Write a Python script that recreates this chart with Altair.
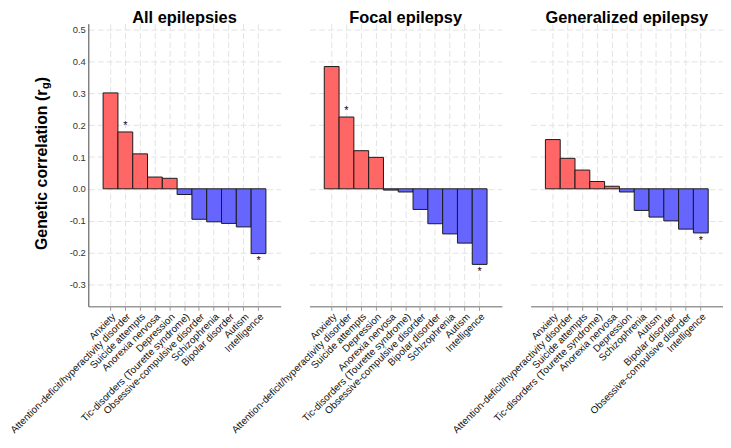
import altair as alt
import pandas as pd

FONT = "Liberation Sans"

# ---- data ----
titles = ["All epilepsies", "Focal epilepsy", "Generalized epilepsy"]

cats_all = ["Anxiety", "Attention-deficit/hyperactivity disorder", "Suicide attempts",
            "Anorexia nervosa", "Depression", "Tic-disorders (Tourette syndrome)",
            "Obsessive-compulsive disorder", "Schizophrenia", "Bipolar disorder",
            "Autism", "Intelligence"]
rg_all = [0.302, 0.179, 0.110, 0.037, 0.033, -0.018, -0.096, -0.104, -0.109, -0.120, -0.204]
sig_all = [0, 1, 0, 0, 0, 0, 0, 0, 0, 0, 1]

cats_focal = ["Anxiety", "Attention-deficit/hyperactivity disorder", "Suicide attempts",
              "Depression", "Anorexia nervosa", "Tic-disorders (Tourette syndrome)",
              "Obsessive-compulsive disorder", "Bipolar disorder", "Schizophrenia",
              "Autism", "Intelligence"]
rg_focal = [0.385, 0.226, 0.120, 0.099, -0.004, -0.010, -0.065, -0.110, -0.142, -0.171, -0.238]
sig_focal = [0, 1, 0, 0, 0, 0, 0, 0, 0, 0, 1]

cats_gen = ["Anxiety", "Attention-deficit/hyperactivity disorder", "Suicide attempts",
            "Tic-disorders (Tourette syndrome)", "Anorexia nervosa", "Depression",
            "Schizophrenia", "Autism", "Bipolar disorder",
            "Obsessive-compulsive disorder", "Intelligence"]
rg_gen = [0.155, 0.096, 0.059, 0.023, 0.008, -0.010, -0.068, -0.089, -0.101, -0.127, -0.139]
sig_gen = [0, 0, 0, 0, 0, 0, 0, 0, 0, 0, 1]

y_ticks = [-0.3, -0.2, -0.1, 0.0, 0.1, 0.2, 0.3, 0.4, 0.5]
y_domain = [-0.37, 0.52]

W = 194
H = 285
RED = "#FF6666"
BLUE = "#6666FF"
GRID = "#e3e3e3"

label_expr = "datum.value < 0 ? '-' + format(-datum.value, '.1f') : format(datum.value, '.1f')"


def panel(title, cats, vals, sig, first):
    df = pd.DataFrame({"trait": cats, "rg": vals, "sig": sig})
    df["dir"] = ["pos" if v >= 0 else "neg" for v in vals]

    xenc = alt.X("trait:N", sort=cats, title=None,
                 scale=alt.Scale(paddingInner=0, paddingOuter=1.0),
                 axis=alt.Axis(labelAngle=-45, labelFontSize=10, labelFont=FONT,
                               labelColor="#111", labelLimit=0, labelPadding=1,
                               labelOverlap=False,
                               tickColor="#999", tickSize=4, domainColor="#999",
                               domainWidth=1.5, grid=True, gridColor=GRID,
                               gridDash=[6, 3]))
    if first:
        yaxis = alt.Axis(values=y_ticks, labelExpr=label_expr, labelFontSize=9.5,
                         labelFont=FONT, labelColor="#333", ticks=False,
                         labelOverlap=False, labelSeparation=0,
                         domainColor="#444", domainWidth=1, labelPadding=3,
                         title=None, grid=True, gridColor=GRID, gridDash=[6, 3])
    else:
        yaxis = alt.Axis(values=y_ticks, labels=False, ticks=False, domain=False,
                         title=None, grid=True, gridColor=GRID, gridDash=[6, 3])
    yscale = alt.Scale(domain=y_domain, nice=False, zero=False)
    yenc = alt.Y("rg:Q", scale=yscale, axis=yaxis)

    base = alt.Chart(df)
    bars = base.mark_bar(stroke="#1a1a1a", strokeWidth=1).encode(
        x=xenc, y=yenc, y2=alt.datum(0),
        color=alt.Color("dir:N", scale=alt.Scale(domain=["pos", "neg"], range=[RED, BLUE]),
                        legend=None),
    )
    star_pos = base.transform_filter("datum.sig == 1 && datum.rg >= 0").mark_text(
        text="*", fontSize=11, font=FONT, baseline="bottom", dy=-1, color="#111"
    ).encode(x=xenc, y=yenc)
    star_neg = base.transform_filter("datum.sig == 1 && datum.rg < 0").mark_text(
        text="*", fontSize=11, font=FONT, baseline="top", dy=2, color="#111"
    ).encode(x=xenc, y=yenc)

    layers = [bars, star_pos, star_neg]
    if first:
        cx = -47
        pY = H / 2 - 76
        t1 = alt.Chart(pd.DataFrame({"t": ["Genetic correlation (r"]})).mark_text(
            angle=270, align="right", baseline="middle", fontSize=16,
            fontWeight="bold", font=FONT, color="#000"
        ).encode(x=alt.value(cx), y=alt.value(pY), text="t:N")
        t2 = alt.Chart(pd.DataFrame({"t": ["g"]})).mark_text(
            angle=270, align="left", baseline="middle", fontSize=11,
            fontWeight="bold", font=FONT, color="#000"
        ).encode(x=alt.value(cx + 4.5), y=alt.value(pY - 0.5), text="t:N")
        t3 = alt.Chart(pd.DataFrame({"t": [")"]})).mark_text(
            angle=270, align="left", baseline="middle", fontSize=16,
            fontWeight="bold", font=FONT, color="#000"
        ).encode(x=alt.value(cx), y=alt.value(pY - 7.5), text="t:N")
        layers += [t1, t2, t3]

    return alt.layer(*layers).properties(
        width=W, height=H,
        title=alt.TitleParams(title, fontSize=16.5, font=FONT, fontWeight="bold",
                              anchor="middle", offset=-3, color="#000"),
    )


p1 = panel(titles[0], cats_all, rg_all, sig_all, True)
p2 = panel(titles[1], cats_focal, rg_focal, sig_focal, False)
p3 = panel(titles[2], cats_gen, rg_gen, sig_gen, False)

chart = alt.hconcat(p1, p2, p3, spacing=29, bounds="flush").resolve_scale(
    x="independent"
).configure_view(stroke=None).configure_axis(labelOverlap=False).properties(
    padding={"left": 0, "top": 0, "right": 0, "bottom": 0}, background="white"
)

chart.save("out.html", embed_options={"renderer": "svg", "actions": False})
